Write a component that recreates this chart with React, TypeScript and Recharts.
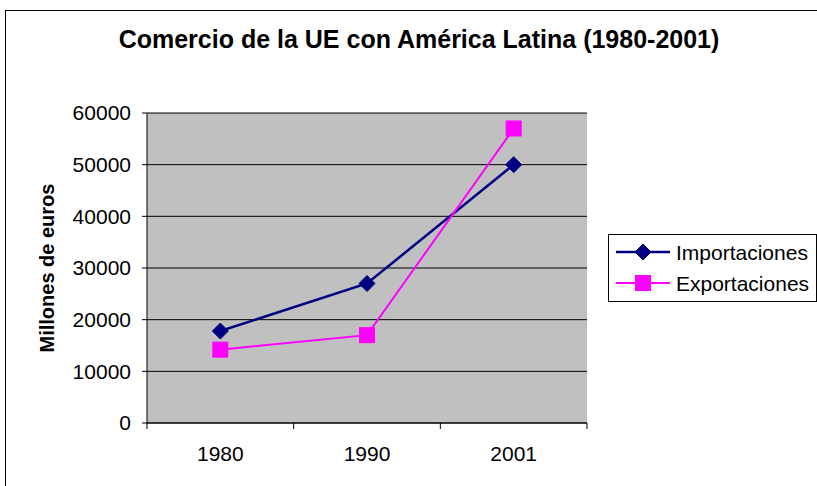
import { LineChart, Line, XAxis, YAxis, CartesianGrid } from 'recharts'

const FONT = '"Liberation Sans", Arial, sans-serif'
const NAVY = '#000080'
const MAGENTA = '#FF00FF'

const categories = ['1980', '1990', '2001']
const importaciones = [17800, 27000, 50000]
const exportaciones = [14200, 17000, 57000]
const yTicks = [0, 10000, 20000, 30000, 40000, 50000, 60000]

const seriesNames = ['Importaciones', 'Exportaciones']

const data = categories.map((label, i) => ({
  x: i + 0.5,
  label,
  importaciones: importaciones[i],
  exportaciones: exportaciones[i],
}))

const xTicks: number[] = []
for (let i = 0; i <= categories.length * 2; i++) xTicks.push(i / 2)

function Diamond({ cx, cy, r = 8 }: { cx: number; cy: number; r?: number }) {
  return (
    <path
      d={`M${cx},${cy - r} L${cx + r},${cy} L${cx},${cy + r} L${cx - r},${cy} Z`}
      fill={NAVY}
      stroke={NAVY}
    />
  )
}

function Square({ cx, cy, s = 15 }: { cx: number; cy: number; s?: number }) {
  return <rect x={cx - s / 2} y={cy - s / 2} width={s} height={s} fill={MAGENTA} stroke={MAGENTA} />
}

// boundary ticks get a short line, half-way ticks get the category label
function XTick(props: any) {
  const { x, y, payload } = props
  const v = payload.value as number
  if (Number.isInteger(v)) {
    return <line x1={x} x2={x} y1={y} y2={y + 6} stroke="#000" strokeWidth={1} />
  }
  return (
    <text
      x={x}
      y={y + 30}
      textAnchor="middle"
      dominantBaseline="central"
      fontSize={21}
      fontFamily={FONT}
      fill="#000"
    >
      {categories[Math.floor(v)]}
    </text>
  )
}

function YLabel(props: any) {
  const vb = props.viewBox
  const cy = vb.y + vb.height / 2
  return (
    <text
      x={47}
      y={cy}
      transform={`rotate(-90, 47, ${cy})`}
      textAnchor="middle"
      dominantBaseline="central"
      fontSize={20}
      fontWeight="bold"
      fontFamily={FONT}
      fill="#000"
    >
      Millones de euros
    </text>
  )
}

export default function App() {
  return (
    <div
      style={{
        position: 'absolute',
        left: 0,
        top: 0,
        width: 817,
        height: 486,
        overflow: 'hidden',
        background: '#fff',
        fontFamily: FONT,
      }}
    >
      <div
        style={{
          position: 'absolute',
          left: 5,
          top: 10,
          width: 840,
          height: 520,
          border: '1px solid #000',
        }}
      />
      <div
        style={{
          position: 'absolute',
          left: 0,
          top: 24,
          width: 838,
          textAlign: 'center',
          fontSize: 25,
          fontWeight: 'bold',
          color: '#000',
          lineHeight: '30px',
        }}
      >
        Comercio de la UE con América Latina (1980-2001)
      </div>
      <div style={{ position: 'absolute', left: 0, top: 0 }}>
        <LineChart
          width={817}
          height={486}
          data={data}
          margin={{ top: 113, right: 230, bottom: 0, left: 0 }}
        >
          <CartesianGrid
            vertical={false}
            stroke="#000"
            fill="#C0C0C0"
            fillOpacity={1}
            yAxisId="main"
            xAxisId="main"
          />
          <XAxis
            xAxisId="main"
            dataKey="x"
            type="number"
            domain={[0, categories.length]}
            ticks={xTicks}
            interval={0}
            height={63}
            tickSize={0}
            tickMargin={0}
            tickLine={false}
            tick={(p: any) => <XTick key={`t-${p.index}`} {...p} />}
            axisLine={{ stroke: '#000', strokeWidth: 1 }}
          />
          <XAxis
            xAxisId="top"
            orientation="top"
            type="number"
            domain={[0, categories.length]}
            height={0}
            tick={false}
            tickLine={false}
            axisLine={{ stroke: '#808080', strokeWidth: 2 }}
          />
          <YAxis
            yAxisId="main"
            domain={[0, 60000]}
            ticks={yTicks}
            interval={0}
            width={147}
            tickSize={5}
            tickMargin={11}
            tick={{ fontSize: 21, fill: '#000', fontFamily: FONT }}
            tickLine={{ stroke: '#000' }}
            axisLine={{ stroke: '#000', strokeWidth: 1 }}
            label={<YLabel />}
          />
          <YAxis
            yAxisId="right"
            orientation="right"
            domain={[0, 60000]}
            width={0}
            tick={false}
            tickLine={false}
            axisLine={{ stroke: '#808080', strokeWidth: 2 }}
          />
          <Line
            xAxisId="main"
            yAxisId="main"
            dataKey="importaciones"
            name={seriesNames[0]}
            stroke={NAVY}
            strokeWidth={2.5}
            isAnimationActive={false}
            dot={(p: any) => <Diamond key={`d-${p.index}`} cx={p.cx} cy={p.cy} />}
          />
          <Line
            xAxisId="main"
            yAxisId="main"
            dataKey="exportaciones"
            name={seriesNames[1]}
            stroke={MAGENTA}
            strokeWidth={2}
            isAnimationActive={false}
            dot={(p: any) => <Square key={`s-${p.index}`} cx={p.cx} cy={p.cy} />}
          />
        </LineChart>
      </div>
      <svg
        width={210}
        height={70}
        style={{ position: 'absolute', left: 608, top: 234 }}
      >
        <rect x={0.5} y={0.5} width={208} height={67} fill="#fff" stroke="#000" />
        <line x1={8} x2={62} y1={18} y2={18} stroke={NAVY} strokeWidth={2.5} />
        <Diamond cx={35} cy={18} />
        <text x={68} y={18} dominantBaseline="central" fontSize={21} fontFamily={FONT} fill="#000">
          {seriesNames[0]}
        </text>
        <line x1={8} x2={62} y1={49} y2={49} stroke={MAGENTA} strokeWidth={2} />
        <Square cx={35} cy={49} />
        <text x={68} y={49} dominantBaseline="central" fontSize={21} fontFamily={FONT} fill="#000">
          {seriesNames[1]}
        </text>
      </svg>
    </div>
  )
}
